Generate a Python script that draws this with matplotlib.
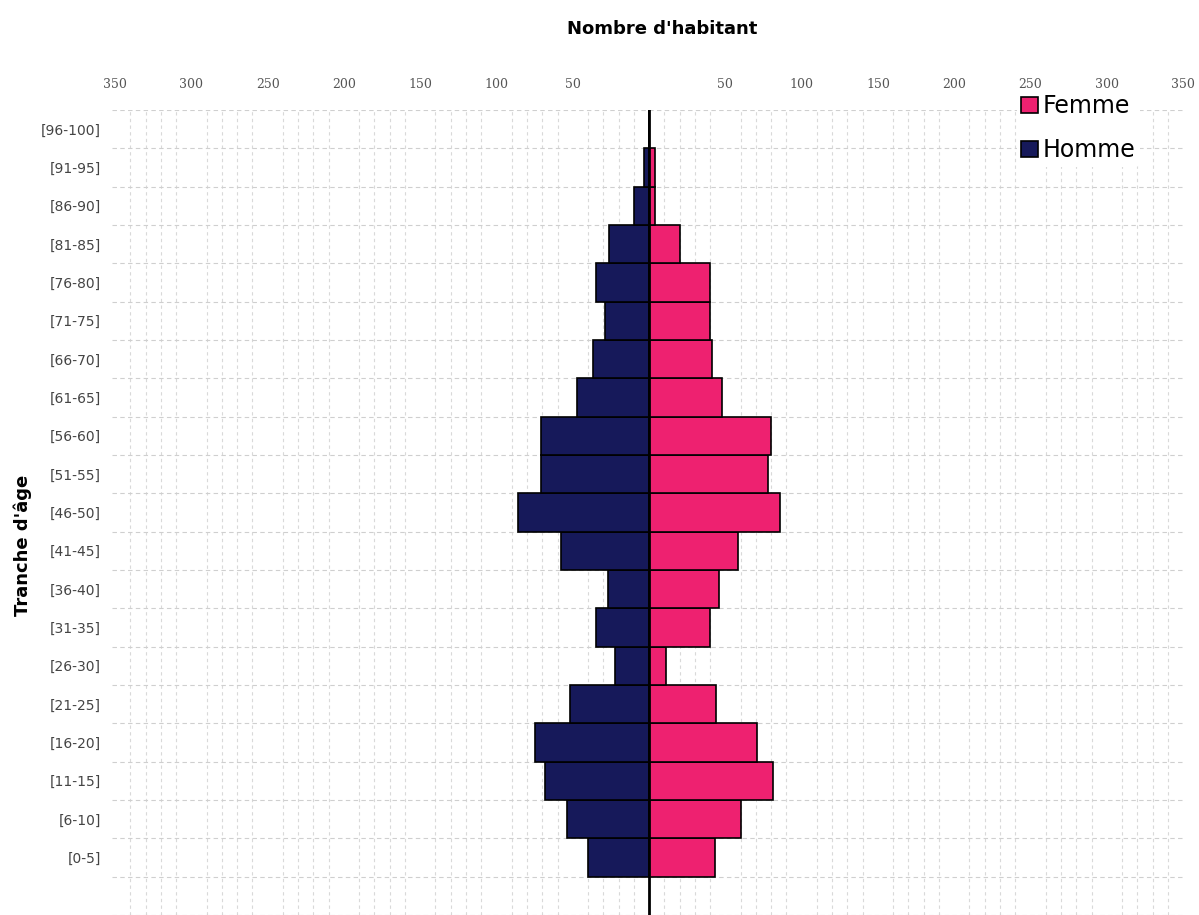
import numpy as np
import matplotlib.pyplot as plt

# age groups, from youngest to oldest
tranches = ['[0-5]', '[6-10]', '[11-15]', '[16-20]', '[21-25]', '[26-30]', '[31-35]',
            '[36-40]', '[41-45]', '[46-50]', '[51-55]', '[56-60]', '[61-65]', '[66-70]',
            '[71-75]', '[76-80]', '[81-85]', '[86-90]', '[91-95]', '[96-100]']
hommes = [40, 54, 68, 75, 52, 22, 35, 27, 58, 86, 71, 71, 47, 37, 29, 35, 26, 10, 3, 0]
femmes = [43, 60, 81, 71, 44, 11, 40, 46, 58, 86, 78, 80, 48, 41, 40, 40, 20, 4, 4, 0]
ticks = [-350, -300, -250, -200, -150, -100, -50, 50, 100, 150, 200, 250, 300, 350]

rose = '#EE2170'
marine = '#16195A'

fig = plt.figure(figsize=(11.99, 9.15), dpi=100)
ax = fig.add_axes([0.0934, 0.0, 0.8933, 1 - 110 / 915])

y = np.arange(len(tranches))
ax.barh(y, [-h for h in hommes], height=1.0, color=marine, edgecolor='black', linewidth=1.2,
        label='Homme', zorder=3)
ax.barh(y, femmes, height=1.0, color=rose, edgecolor='black', linewidth=1.2,
        label='Femme', zorder=3)
ax.axvline(0, color='black', linewidth=2, zorder=4)

ax.set_xlim(-352, 350)
ax.set_ylim(-1.5, len(tranches) - 0.5)

# x axis on top, absolute values
ax.xaxis.tick_top()
ax.set_xticks(ticks)
ax.set_xticklabels([str(abs(t)) for t in ticks], fontsize=9, color='#555555', family='DejaVu Serif')
ax.set_xticks(np.arange(-350, 351, 10), minor=True)
ax.set_yticks(y)
ax.set_yticklabels(tranches, fontsize=10, color='#444444')
ax.set_yticks(np.arange(-1.5, len(tranches), 1.0), minor=True)
ax.tick_params(which='both', length=0)
ax.tick_params(axis='x', pad=14)
ax.tick_params(axis='y', pad=8)

ax.grid(which='minor', axis='x', color='#d9d9d9', linestyle=(0, (3, 3)), linewidth=0.8, zorder=0)
ax.grid(which='minor', axis='y', color='#cfcfcf', linestyle=(0, (4, 3)), linewidth=0.8, zorder=0)
for s in ax.spines.values():
    s.set_visible(False)

fig.text(0.552, 0.968, "Nombre d'habitant", ha='center', va='center', fontsize=13, fontweight='bold')
fig.text(0.019, 0.404, "Tranche d'âge", ha='center', va='center', rotation=90, fontsize=13,
         fontweight='bold')

handles, labels = ax.get_legend_handles_labels()
leg = fig.legend(handles[::-1], labels[::-1], loc='upper left', bbox_to_anchor=(0.838, 0.915),
                 fontsize=17, frameon=True, facecolor='white', edgecolor='none', framealpha=1,
                 handlelength=0.7, handleheight=0.7, handletextpad=0.2, labelspacing=0.85,
                 borderpad=0.2)
leg.set_zorder(10)

plt.savefig('out.png', dpi=100)
